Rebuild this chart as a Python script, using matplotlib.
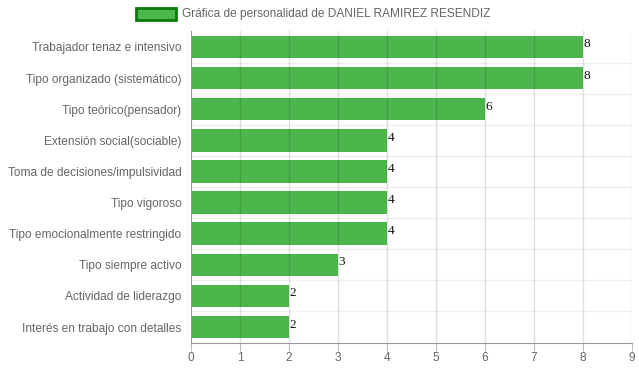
import matplotlib
matplotlib.use("Agg")
import matplotlib.pyplot as plt
from matplotlib.patches import Rectangle

# data
categories = ['Trabajador tenaz e intensivo', 'Tipo organizado (sistemático)', 'Tipo teórico(pensador)',
              'Extensión social(sociable)', 'Toma de decisiones/impulsividad', 'Tipo vigoroso',
              'Tipo emocionalmente restringido', 'Tipo siempre activo', 'Actividad de liderazgo',
              'Interés en trabajo con detalles']
values = [8, 8, 6, 4, 4, 4, 4, 3, 2, 2]
legend_label = 'Gráfica de personalidad de DANIEL RAMIREZ RESENDIZ'

plt.rcParams['font.family'] = ['Liberation Sans', 'DejaVu Sans']

fig = plt.figure(figsize=(6.39, 3.72), dpi=100)
ax = fig.add_axes([191 / 639, 1 - 342.6 / 372, (632 - 191) / 639, (342.6 - 31.4) / 372])

y = list(range(len(categories)))
ax.barh(y, values, height=0.72, color='#3daf3d', alpha=0.92, zorder=2)

ax.set_xlim(0, 9)
ax.set_ylim(len(categories) - 0.5, -0.5)
ax.set_xticks(range(10))
ax.set_yticks(y)
ax.set_yticklabels(categories)

# vertical grid lines on integer ticks
for v in range(1, 10):
    ax.axvline(v, color='#000000', alpha=0.12, lw=1, zorder=3)
# horizontal lines between categories
for b in range(1, len(categories)):
    ax.axhline(b - 0.5, color='#000000', alpha=0.06, lw=1, zorder=1)

for s in ['top', 'right']:
    ax.spines[s].set_visible(False)
for s in ['left', 'bottom']:
    ax.spines[s].set_color('#999999')
    ax.spines[s].set_linewidth(0.8)

ax.tick_params(axis='x', colors='#bbbbbb', length=6, width=0.8, labelcolor='#666666', labelsize=8.6, pad=1)
ax.tick_params(axis='y', length=0, labelcolor='#666666', labelsize=8.6, pad=7)

for yi, v in zip(y, values):
    ax.text(v + 0.01, yi - 0.08, str(v), ha='left', va='center', fontsize=9.5,
            family='Liberation Serif', color='#111111', zorder=4)

# legend drawn like the reference (box + label centered above the plot)
fig.patches.append(Rectangle((136 / 639, 1 - 20 / 372), 40 / 639, 12 / 372,
                             transform=fig.transFigure, facecolor='#4cb54c',
                             edgecolor='#0a7a0a', linewidth=2))
fig.text(182 / 639, 1 - 14 / 372, legend_label, ha='left', va='center', fontsize=8.6, color='#666666')

fig.savefig('out.png', dpi=100)
